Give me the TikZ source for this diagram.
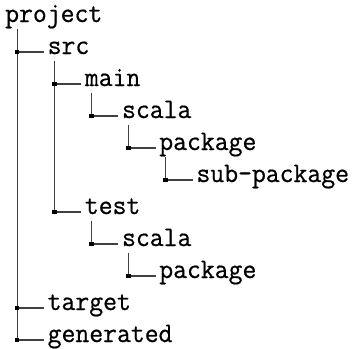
\documentclass[tikz,border=0pt]{standalone}
\usepackage{fontspec}
\setmonofont[FakeBold=0.6,FakeStretch=0.955]{Latin Modern Mono}
\begin{document}
\begin{tikzpicture}[x=1pt,y=-1pt,
  entry/.style={anchor=base west,inner sep=0pt,font=\ttfamily\fontsize{28.2}{32}\selectfont},
  vline/.style={draw=black!75,line width=1pt},
  hline/.style={draw=black!75,line width=1.3pt},
  junc/.style={fill=black,minimum size=4.5pt,inner sep=0pt,draw=none,rectangle}]
\useasboundingbox (0,0) rectangle (353,348);
% entries
\node[entry] (project) at (5,22) {project};
\node[entry] (src) at (47.5,54) {src};
\node[entry] (main) at (84.7,86) {main};
\node[entry] (scalaA) at (121.9,118) {scala};
\node[entry] (packageA) at (159.1,150) {package};
\node[entry] (subpackage) at (196.3,182) {sub-package};
\node[entry] (test) at (84.7,214) {test};
\node[entry] (scalaB) at (121.9,246) {scala};
\node[entry] (packageB) at (159.1,278) {package};
\node[entry] (target) at (47.5,310) {target};
\node[entry] (generated) at (47.5,342) {generated};
% junctions
\coordinate (tProject) at (17,29);
\coordinate (tSrc) at (54.2,61);
\coordinate (tMain) at (91.4,93);
\coordinate (tScalaA) at (128.6,125);
\coordinate (tPackageA) at (165.8,157);
\coordinate (tTest) at (91.4,221);
\coordinate (tScalaB) at (128.6,253);
\node[junc] (jSrc) at (17,52) {};
\node[junc] (jTarget) at (17,308) {};
\node[junc] (jGenerated) at (17,340) {};
\node[junc] (jMain) at (54.2,84) {};
\node[junc] (jTest) at (54.2,212) {};
\node[junc] (jScalaA) at (91.4,116) {};
\node[junc] (jPackageA) at (128.6,148) {};
\node[junc] (jSub) at (165.8,180) {};
\node[junc] (jScalaB) at (91.4,244) {};
\node[junc] (jPackageB) at (128.6,276) {};
% vertical lines
\draw[vline] (tProject) -- (jGenerated.center);
\draw[vline] (tSrc) -- (jTest.center);
\draw[vline] (tMain) -- (jScalaA.center);
\draw[vline] (tScalaA) -- (jPackageA.center);
\draw[vline] (tPackageA) -- (jSub.center);
\draw[vline] (tTest) -- (jScalaB.center);
\draw[vline] (tScalaB) -- (jPackageB.center);
% horizontal lines
\draw[hline] (jSrc.center) -- ([xshift=-3.5pt]src.west |- jSrc.center);
\draw[hline] (jTarget.center) -- ([xshift=-3.5pt]target.west |- jTarget.center);
\draw[hline] (jGenerated.center) -- ([xshift=-3.5pt]generated.west |- jGenerated.center);
\draw[hline] (jMain.center) -- ([xshift=-3.5pt]main.west |- jMain.center);
\draw[hline] (jTest.center) -- ([xshift=-3.5pt]test.west |- jTest.center);
\draw[hline] (jScalaA.center) -- ([xshift=-3.5pt]scalaA.west |- jScalaA.center);
\draw[hline] (jPackageA.center) -- ([xshift=-3.5pt]packageA.west |- jPackageA.center);
\draw[hline] (jSub.center) -- ([xshift=-3.5pt]subpackage.west |- jSub.center);
\draw[hline] (jScalaB.center) -- ([xshift=-3.5pt]scalaB.west |- jScalaB.center);
\draw[hline] (jPackageB.center) -- ([xshift=-3.5pt]packageB.west |- jPackageB.center);
% junction squares on top
\foreach \j in {jSrc,jTarget,jGenerated,jMain,jTest,jScalaA,jPackageA,jSub,jScalaB,jPackageB}
  \fill (\j.south west) rectangle (\j.north east);
\end{tikzpicture}
\end{document}
